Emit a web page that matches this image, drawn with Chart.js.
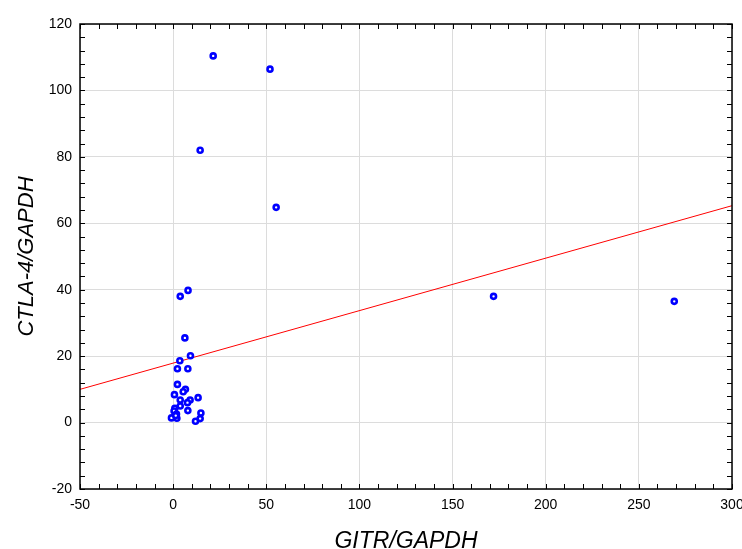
<!DOCTYPE html>
<html>
<head>
<meta charset="utf-8">
<script src="https://cdn.jsdelivr.net/npm/chart.js@4/dist/chart.umd.min.js"></script>
<style>
  html, body { margin: 0; padding: 0; background: #fff; overflow: hidden; }
  #wrap { width: 752px; height: 549px; }
</style>
</head>
<body>
<div id="wrap"><canvas id="chart"></canvas></div>
<script>
// GITR/GAPDH (x) vs CTLA-4/GAPDH (y)
const gitr = [21.5, 52, 14.5, 55.3, 3.8, 8, 172, 269, 6.3, 9.3, 3.6, 2.3, 7.9, 2.3, 6.6, 5.4,
              0.7, 13.4, 9.1, 3.8, 7.7, 0.9, 3.8, 0.5, 7.9, 14.9, 1.8, -0.9, 2.0, 14.5, 12.0, 1.4];
const ctla4 = [110.4, 106.4, 82, 64.8, 38, 39.8, 38, 36.5, 25.5, 20.1, 18.6, 16.2, 16.2, 11.5, 10.0, 9.3,
               8.4, 7.5, 6.8, 6.8, 6.0, 4.3, 5.0, 3.5, 3.6, 2.9, 2.6, 1.4, 1.3, 1.2, 0.4, 2.1];
// fitted line end points
const fitX = [-50, 300];
const fitY = [10.0, 65.3];

const xTicks = [-50, 0, 50, 100, 150, 200, 250, 300];
const yTicks = [-20, 0, 20, 40, 60, 80, 100, 120];

const points = gitr.map((x, i) => ({ x: x, y: ctla4[i] }));
const fitLine = fitX.map((x, i) => ({ x: x, y: fitY[i] }));

// inward minor ticks on all four sides of the frame
const frameTicks = {
    id: 'frameTicks',
    afterDraw(chart) {
        const ctx = chart.ctx;
        const a = chart.chartArea;
        const xs = chart.scales.x, ys = chart.scales.y;
        const len = 5;
        ctx.save();
        ctx.strokeStyle = '#000';
        ctx.lineWidth = 1;
        ctx.beginPath();
        for (let v = xs.min; v <= xs.max + 0.001; v += 10) {
            const px = Math.round(xs.getPixelForValue(v)) + 0.5;
            ctx.moveTo(px, a.top); ctx.lineTo(px, a.top + len);
            ctx.moveTo(px, a.bottom); ctx.lineTo(px, a.bottom - len);
        }
        for (let v = ys.min; v <= ys.max + 0.001; v += 4) {
            const py = Math.round(ys.getPixelForValue(v)) + 0.5;
            ctx.moveTo(a.left, py); ctx.lineTo(a.left + len, py);
            ctx.moveTo(a.right, py); ctx.lineTo(a.right - len, py);
        }
        ctx.stroke();
        ctx.lineWidth = 1.5;
        ctx.strokeRect(a.left, a.top, a.right - a.left, a.bottom - a.top);
        ctx.restore();
    }
};

new Chart(document.getElementById('chart'), {
    type: 'scatter',
    data: {
        datasets: [
            {
                label: 'data',
                data: points,
                pointStyle: 'circle',
                pointRadius: 2.5,
                pointBorderWidth: 2.6,
                borderColor: '#0000ff',
                backgroundColor: '#ffffff',
                order: 1
            },
            {
                label: 'fit',
                type: 'line',
                data: fitLine,
                borderColor: '#ff0000',
                borderWidth: 1,
                pointRadius: 0,
                fill: false,
                order: 2
            }
        ]
    },
    options: {
        responsive: true,
        maintainAspectRatio: false,
        animation: false,
        layout: { padding: { top: 24, right: 20, left: 0, bottom: 0 } },
        plugins: {
            legend: { display: false },
            tooltip: { enabled: false }
        },
        scales: {
            x: {
                type: 'linear',
                min: -50, max: 300,
                afterBuildTicks: s => { s.ticks = xTicks.map(v => ({ value: v })); },
                afterFit: s => { s.height = 60; },
                grid: { color: '#dcdcdc', drawTicks: false },
                border: { display: false },
                ticks: { color: '#000', padding: 8, maxRotation: 0,
                         font: { family: 'Liberation Sans, Arial', size: 14 } },
                title: { display: true, text: 'GITR/GAPDH', color: '#000', padding: { top: 4, bottom: -6 },
                         font: { family: 'Liberation Sans, Arial', size: 23, style: 'italic' } }
            },
            y: {
                type: 'linear',
                min: -20, max: 120,
                afterBuildTicks: s => { s.ticks = yTicks.map(v => ({ value: v })); },
                afterFit: s => { s.width = 80; },
                grid: { color: '#dcdcdc', drawTicks: false },
                border: { display: false },
                ticks: { color: '#000', padding: 8,
                         font: { family: 'Liberation Sans, Arial', size: 14 } },
                title: { display: true, text: 'CTLA-4/GAPDH', color: '#000', padding: { top: 14, bottom: 4 },
                         font: { family: 'Liberation Sans, Arial', size: 22, style: 'italic' } }
            }
        }
    },
    plugins: [frameTicks]
});
</script>
</body>
</html>
